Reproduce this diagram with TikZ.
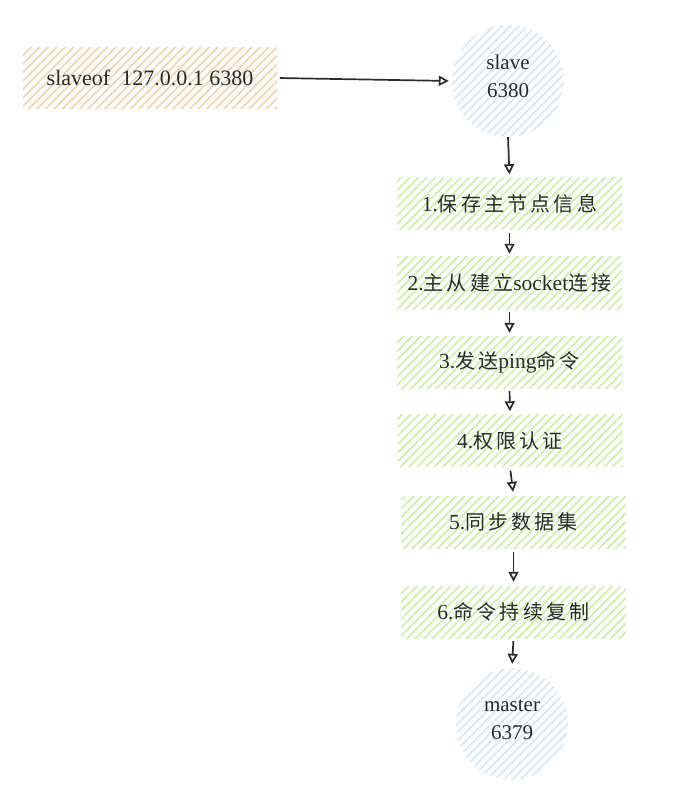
\documentclass[tikz,border=0pt]{standalone}
\usepackage{fontspec}
\setmainfont{Liberation Serif}
\newfontfamily\cjk{Noto Sans CJK SC}[LetterSpace=16]
\usetikzlibrary{arrows.meta,patterns.meta}
\definecolor{txt}{HTML}{2A2A2A}
\definecolor{orangeh}{HTML}{FBCFA8}
\definecolor{greenh}{HTML}{D2EDA2}
\definecolor{blueh}{HTML}{D3E6FB}
\tikzset{
  hatch/.style={pattern={Lines[angle=45,distance=6pt,line width=1.6pt]},pattern color=#1},
  cmdbox/.style={hatch=orangeh,minimum width=254pt,minimum height=61pt,inner sep=0pt,text=txt,font=\fontsize{22}{24}\selectfont},
  stepbox/.style={hatch=greenh,minimum width=225pt,minimum height=52pt,inner sep=0pt,text=txt,font=\fontsize{21.5}{24}\selectfont},
  srv/.style={hatch=blueh,circle,minimum size=112pt,inner sep=0pt},
  srvtext/.style={text=txt,align=center,font=\fontsize{21}{28}\selectfont},
  conn/.style={draw=txt,line width=1.7pt,-{Triangle[open,length=10pt,width=10pt]}}
}
\begin{document}
\begin{tikzpicture}[x=1pt,y=-1pt]
\useasboundingbox (0,0) rectangle (680,791);
\node[cmdbox] (cmd) at (150,78) {slaveof\ \ 127.0.0.1 6380};
\node[srv] (slave) at (508,81) {};
\node[srvtext] (slavet) at (508,76) {slave\\6380};
\node[stepbox] (s1) at (509.5,203.5) {1.{\cjk\fontsize{20}{24}\selectfont 保存主节点信息}};
\node[stepbox] (s2) at (509.5,283) {2.{\cjk\fontsize{20}{24}\selectfont 主从建立}socket{\cjk\fontsize{20}{24}\selectfont 连接}};
\node[stepbox] (s3) at (509.5,362) {3.{\cjk\fontsize{20}{24}\selectfont 发送}ping{\cjk\fontsize{20}{24}\selectfont 命令}};
\node[stepbox] (s4) at (510,440.5) {4.{\cjk\fontsize{20}{24}\selectfont 权限认证}};
\node[stepbox] (s5) at (513.5,522) {5.{\cjk\fontsize{20}{24}\selectfont 同步数据集}};
\node[stepbox] (s6) at (513.5,612) {6.{\cjk\fontsize{20}{24}\selectfont 命令持续复制}};
\node[srv] (master) at (512,724) {};
\node[srvtext] (mastert) at (512,720) {master\\6379};
\draw[conn,shorten <=2pt,shorten >=3pt] (cmd.east) -- (slave.west);
\draw[conn,shorten >=3pt] (slave.south) -- (s1.north);
\draw[conn,shorten <=3pt,shorten >=3pt] (s1.south) -- (s2.north);
\draw[conn,shorten <=3pt,shorten >=3pt] (s2.south) -- (s3.north);
\draw[conn,shorten <=3pt,shorten >=3pt] (s3.south) -- (s4.north);
\draw[conn,shorten <=4pt,shorten >=4pt] (s4.south) -- (s5.north);
\draw[conn,shorten <=4pt,shorten >=4pt] (s5.south) -- (s6.north);
\draw[conn,shorten <=3pt,shorten >=4pt] (s6.south) -- (master.north);
\end{tikzpicture}
\end{document}
